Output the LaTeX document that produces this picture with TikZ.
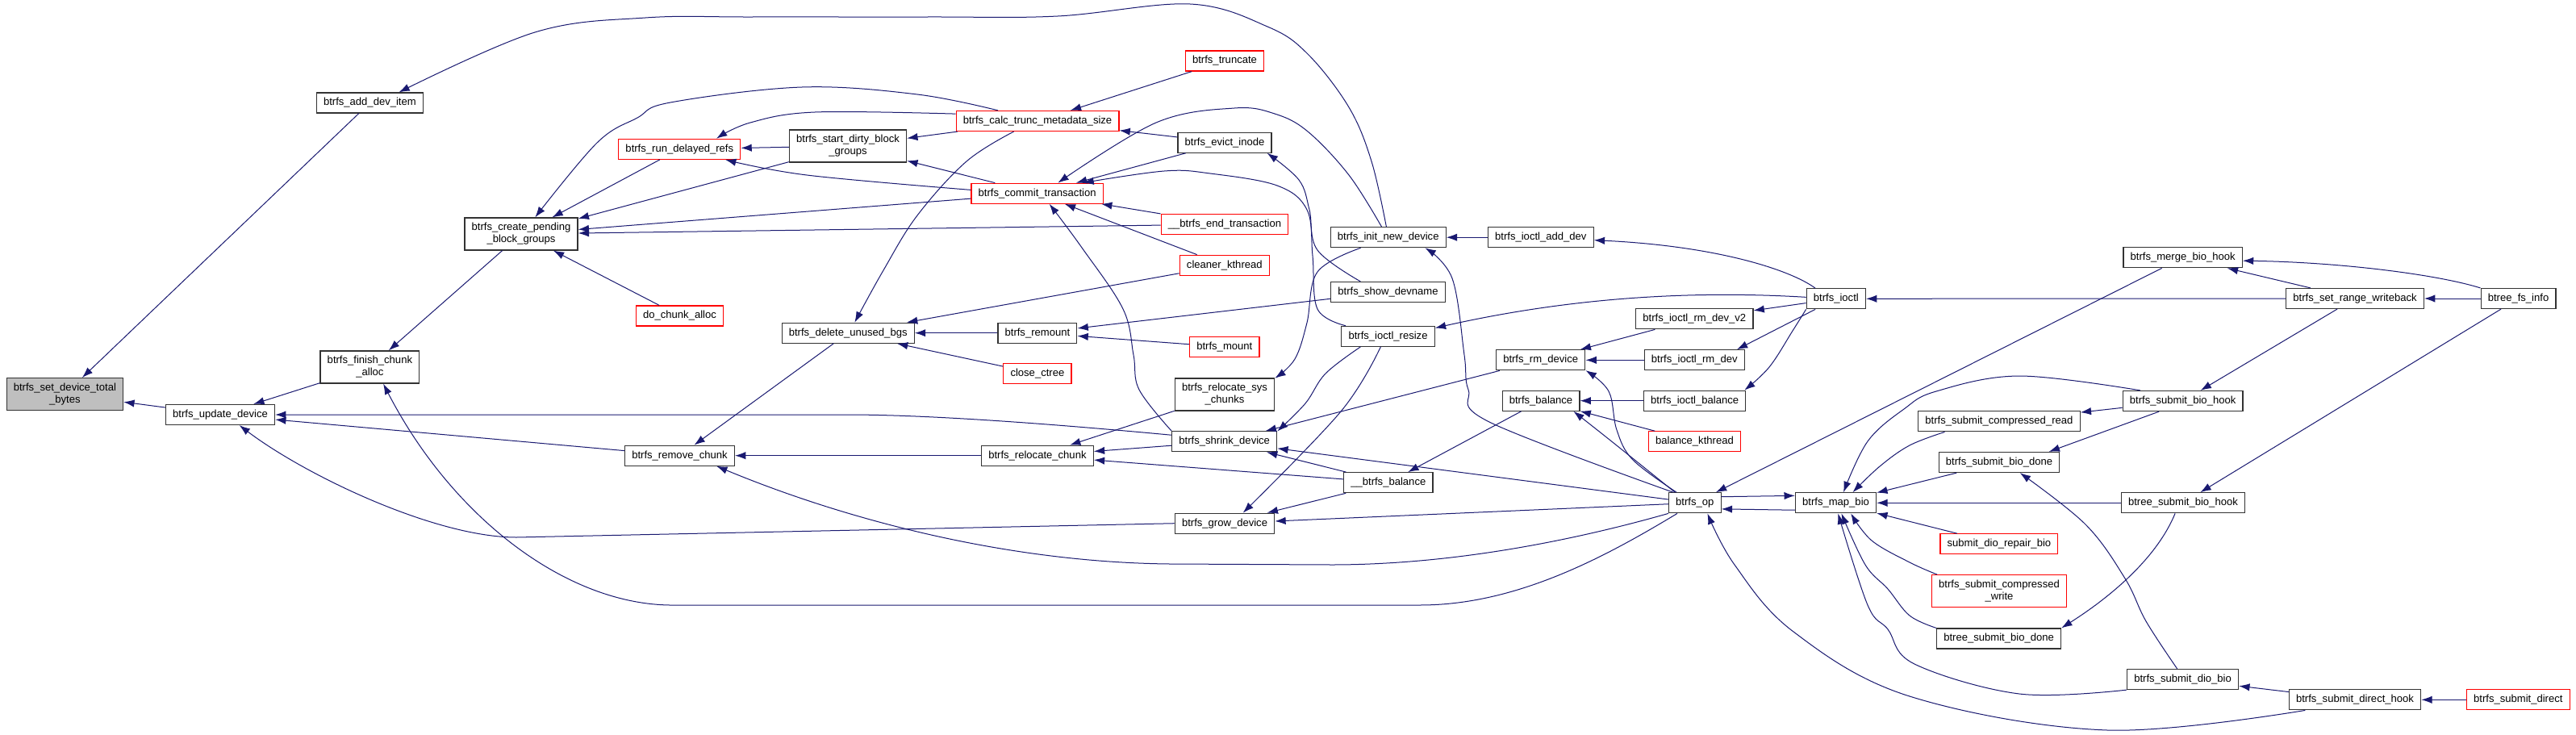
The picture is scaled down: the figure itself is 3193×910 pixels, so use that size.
\documentclass[tikz,border=0pt]{standalone}
\usepackage{fontspec}
\setmainfont{Liberation Sans}
\usetikzlibrary{arrows.meta}
\definecolor{callblue}{HTML}{191970}
\definecolor{rootgray}{HTML}{BFBFBF}
\definecolor{boxred}{HTML}{FF0000}

\begin{document}
\begin{tikzpicture}[x=0.75pt, y=-0.75pt,
  fn/.style = {draw=black!80, line width=0.9pt, fill=white, minimum height=18.75pt, inner xsep=6.5pt, inner ysep=1pt, align=center, font=\fontsize{9.8}{11.3}\selectfont},
  fnred/.style = {fn, draw=boxred},
  fnroot/.style = {fn, fill=rootgray},
  twoline/.style = {minimum height=30pt},
  callarrow/.style = {draw=callblue, line width=0.75pt, -{Latex[length=10pt, width=7pt]}}
]

\useasboundingbox (0,0) rectangle (3193,910);

% root and first columns
\node[fnroot, twoline] (root) at (80.4,488.7) {btrfs\_set\_device\_total\\\_bytes};
\node[fn] (updev) at (273,514) {btrfs\_update\_device};
\node[fn] (adddev) at (458.4,127.5) {btrfs\_add\_dev\_item};
\node[fn, twoline] (finish) at (458.4,455) {btrfs\_finish\_chunk\\\_alloc};
\node[fn, twoline] (pending) at (646,290) {btrfs\_create\_pending\\\_block\_groups};

% column 4
\node[fnred] (rundel) at (842.3,184.8) {btrfs\_run\_delayed\_refs};
\node[fnred] (dochunk) at (842.5,391.5) {do\_chunk\_alloc};
\node[fn] (rmchunk) at (842.5,564.7) {btrfs\_remove\_chunk};

% column 5
\node[fn, twoline] (startdirty) at (1051,181) {btrfs\_start\_dirty\_block\\\_groups};
\node[fn] (delbgs) at (1051.2,412.7) {btrfs\_delete\_unused\_bgs};

% column 6
\node[fnred] (calctrunc) at (1286,150) {btrfs\_calc\_trunc\_metadata\_size};
\node[fnred] (commit) at (1285.6,239.7) {btrfs\_commit\_transaction};
\node[fn] (remount) at (1285.9,412.7) {btrfs\_remount};
\node[fnred] (closectree) at (1285.9,463.3) {close\_ctree};
\node[fn] (relchunk) at (1285.9,564.7) {btrfs\_relocate\_chunk};

% column 7
\node[fnred] (truncate) at (1518,75.5) {btrfs\_truncate};
\node[fn] (evict) at (1518,176.7) {btrfs\_evict\_inode};
\node[fnred] (endtrans) at (1518,278) {\_\_btrfs\_end\_transaction};
\node[fnred] (cleaner) at (1517.8,328.7) {cleaner\_kthread};
\node[fnred] (mount) at (1517.8,430) {btrfs\_mount};
\node[fn, twoline] (relsys) at (1518,489) {btrfs\_relocate\_sys\\\_chunks};
\node[fn] (shrink) at (1517.7,547.3) {btrfs\_shrink\_device};
\node[fn] (grow) at (1518,648.7) {btrfs\_grow\_device};

% column 8
\node[fn] (initnew) at (1720.7,294.2) {btrfs\_init\_new\_device};
\node[fn] (showdev) at (1720.5,362) {btrfs\_show\_devname};
\node[fn] (resize) at (1720.5,416.8) {btrfs\_ioctl\_resize};
\node[fn] (ubalance) at (1720.8,598.2) {\_\_btrfs\_balance};

% column 9
\node[fn] (addioctl) at (1909.8,294.2) {btrfs\_ioctl\_add\_dev};
\node[fn] (rmdev) at (1909.7,446.3) {btrfs\_rm\_device};
\node[fn] (balance) at (1910,496.7) {btrfs\_balance};

% column 10
\node[fn] (rmdevvtwo) at (2100.3,395.3) {btrfs\_ioctl\_rm\_dev\_v2};
\node[fn] (ioctlrmdev) at (2100.3,446.3) {btrfs\_ioctl\_rm\_dev};
\node[fn] (ioctlbal) at (2100.6,496.7) {btrfs\_ioctl\_balance};
\node[fnred] (balkthread) at (2100.5,547.3) {balance\_kthread};
\node[fn] (op) at (2100.8,623.3) {btrfs\_op};

% column 11
\node[fn] (ioctl) at (2275.8,370.3) {btrfs\_ioctl};
\node[fn] (mapbio) at (2275.5,623.3) {btrfs\_map\_bio};

% column 12
\node[fn] (compread) at (2477.9,522.3) {btrfs\_submit\_compressed\_read};
\node[fn] (biodone) at (2478,573) {btrfs\_submit\_bio\_done};
\node[fnred] (repair) at (2477.9,674.3) {submit\_dio\_repair\_bio};
\node[fnred, twoline] (compwrite) at (2478,732.7) {btrfs\_submit\_compressed\\\_write};
\node[fn] (btreedone) at (2477.6,791.5) {btree\_submit\_bio\_done};

% column 13
\node[fn] (merge) at (2705.6,319.3) {btrfs\_merge\_bio\_hook};
\node[fn] (biohook) at (2705.6,497) {btrfs\_submit\_bio\_hook};
\node[fn] (btreehook) at (2705.9,623.3) {btree\_submit\_bio\_hook};
\node[fn] (diobio) at (2705.6,842) {btrfs\_submit\_dio\_bio};

% columns 14, 15
\node[fn] (rangewb) at (2919,370) {btrfs\_set\_range\_writeback};
\node[fn] (directhook) at (2919,867.3) {btrfs\_submit\_direct\_hook};
\node[fn] (fsinfo) at (3121.5,370) {btree\_fs\_info};
\node[fnred] (direct) at (3121.3,867.3) {btrfs\_submit\_direct};

%--- into root, update_device, add_dev_item ---
\draw[callarrow] (updev) -- (root);
\draw[callarrow] (adddev) -- (root);
\draw[callarrow] plot[smooth, tension=0.6] coordinates {(initnew.100) (1700,200) (1672,133) (1621,67) (1571,33) (1475,5) (1311,20) (1150,21) (933,21) (800,22) (663,40) (adddev.20)};
\draw[callarrow] (finish) -- (updev);
\draw[callarrow] (shrink.173) .. controls (1300,525) and (1150,514) .. (1050,514) -- (updev.east);
\draw[callarrow] (rmchunk) -- (updev);
\draw[callarrow] (grow.west) -- (640,666) .. controls (540,666) and (380,590) .. (updev.-29);

%--- finish_chunk_alloc, create_pending_block_groups ---
\draw[callarrow] (pending) -- (finish);
\draw[callarrow] (op.211) .. controls (1990,690) and (1880,750) .. (1760,750) -- (830,750) .. controls (700,748) and (560,640) .. (finish.-51);
\draw[callarrow] plot[smooth, tension=0.6] coordinates {(calctrunc.165) (1137,117) (994,108) (831,127) (790,146) (740,177) (pending.50)};
\draw[callarrow] (rundel) -- (pending);
\draw[callarrow] (startdirty) -- (pending);
\draw[callarrow] (commit) -- (pending);
\draw[callarrow] (endtrans) -- (pending);
\draw[callarrow] (dochunk) -- (pending);

%--- run_delayed_refs, start_dirty_block_groups ---
\draw[callarrow] plot[smooth, tension=0.6] coordinates {(calctrunc.175) (1010,139) (930,152) (rundel.16)};
\draw[callarrow] (startdirty) -- (rundel);
\draw[callarrow] plot[smooth, tension=0.6] coordinates {(commit.177) (1000,217) (rundel.-13)};
\draw[callarrow] (calctrunc) -- (startdirty);
\draw[callarrow] (commit) -- (startdirty);

%--- remove_chunk, delete_unused_bgs ---
\draw[callarrow] (relchunk) -- (rmchunk);
\draw[callarrow] (delbgs) -- (rmchunk);
\draw[callarrow] (op.south west) .. controls (1950,670) and (1800,700) .. (1650,700) -- (1450,699) .. controls (1250,697) and (1050,645) .. (rmchunk.-16);
\draw[callarrow] plot[smooth, tension=0.6] coordinates {(calctrunc.204) (1198,200) (1137,267) (1095,335) (delbgs.58)};
\draw[callarrow] (remount) -- (delbgs);
\draw[callarrow] (cleaner) -- (delbgs);
\draw[callarrow] (closectree) -- (delbgs);

%--- calc_trunc_metadata_size, commit_transaction ---
\draw[callarrow] (truncate) -- (calctrunc);
\draw[callarrow] (evict) -- (calctrunc);
\draw[callarrow] plot[smooth, tension=0.6] coordinates {(initnew.122) (1672,217) (1621,163) (1580,141) (1530,134) (1433,152) (commit.27)};
\draw[callarrow] plot[smooth, tension=0.6] coordinates {(resize.166) (1633,383) (1627,317) (1620,260) (1583,230) (1500,215) (1443,212) (commit.13)};
\draw[callarrow] (evict) -- (commit);
\draw[callarrow] (endtrans) -- (commit);
\draw[callarrow] (cleaner) -- (commit);
\draw[callarrow] plot[smooth, tension=0.6] coordinates {(shrink.north west) (1412,483) (1405,440) (1392,383) (1341,307) (commit.-41)};

%--- remount, evict_inode ---
\draw[callarrow] (showdev) -- (remount);
\draw[callarrow] (mount) -- (remount);
\draw[callarrow] plot[smooth, tension=0.6] coordinates {(showdev.159) (1633,310) (1623,260) (1610,223) (evict.-14)};

%--- relocate_chunk, shrink, grow ---
\draw[callarrow] (shrink) -- (relchunk);
\draw[callarrow] (relsys) -- (relchunk);
\draw[callarrow] (ubalance) -- (relchunk);
\draw[callarrow] (ubalance) -- (shrink);
\draw[callarrow] (ubalance) -- (grow);
\draw[callarrow] plot[smooth, tension=0.6] coordinates {(resize.201) (1643,463) (1618,500) (shrink.11)};
\draw[callarrow] plot[smooth, tension=0.6] coordinates {(resize.-125) (1662,510) (grow.30)};
\draw[callarrow] (rmdev) -- (shrink);
\draw[callarrow] (op) -- (shrink);
\draw[callarrow] (op) -- (grow);
\draw[callarrow] plot[smooth, tension=0.6] coordinates {(initnew.201) (1633,337) (1620,400) (1605,445) (relsys.18)};

%--- init_new_device, rm_device, balance ---
\draw[callarrow] (addioctl) -- (initnew);
\draw[callarrow] plot[smooth, tension=0.6] coordinates {(op.154) (1846,523) (1820,483) (1815,440) (1800,345) (initnew.-16)};
\draw[callarrow] plot[smooth, tension=0.6] coordinates {(op.150) (2024,570) (2004,533) (1994,485) (rmdev.-13)};
\draw[callarrow] plot[smooth, tension=0.6] coordinates {(op.152) (1995,545) (balance.-18)};
\draw[callarrow] (rmdevvtwo) -- (rmdev);
\draw[callarrow] (ioctlrmdev) -- (rmdev);
\draw[callarrow] (ioctlbal) -- (balance);
\draw[callarrow] (balkthread) -- (balance);
\draw[callarrow] (balance) -- (ubalance);

%--- btrfs_ioctl ---
\draw[callarrow] (ioctl.177) .. controls (2100,360) and (1950,368) .. (resize.10);
\draw[callarrow] (ioctl.153) .. controls (2220,335) and (2130,305) .. (addioctl.-3);
\draw[callarrow] (ioctl) -- (rmdevvtwo);
\draw[callarrow] (ioctl.207) -- (ioctlrmdev.14);
\draw[callarrow] plot[smooth, tension=0.6] coordinates {(ioctl.south west) (2222,410) (2193,455) (ioctlbal.12)};
\draw[callarrow] (rangewb) -- (ioctl);

%--- btrfs_op <-> btrfs_map_bio ---
\draw[callarrow] (op.13) -- (mapbio.170);
\draw[callarrow] (mapbio.190) -- (op.-13);
\draw[callarrow] (merge) -- (op);
\draw[callarrow] plot[smooth, tension=0.6] coordinates {(directhook.192) (2612,905) (2367,863) (2223,783) (2150,700) (op.-40)};

%--- callers of btrfs_map_bio ---
\draw[callarrow] plot[smooth, tension=0.6] coordinates {(biohook.166) (2503,466) (2400,485) (2360,507) (2315,547) (mapbio.54)};
\draw[callarrow] plot[smooth, tension=0.6] coordinates {(compread.191) (2367,552) (2330,578) (mapbio.32)};
\draw[callarrow] (biodone) -- (mapbio);
\draw[callarrow] (btreehook) -- (mapbio);
\draw[callarrow] (repair) -- (mapbio);
\draw[callarrow] plot[smooth, tension=0.6] coordinates {(compwrite.165) (2367,697) (2320,670) (mapbio.-35)};
\draw[callarrow] plot[smooth, tension=0.6] coordinates {(btreedone.north west) (2367,763) (2340,730) (2312,700) (mapbio.-62)};
\draw[callarrow] plot[smooth, tension=0.6] coordinates {(diobio.south west) (2503,860) (2373,823) (2340,780) (2315,750) (mapbio.-78)};

%--- right part ---
\draw[callarrow] (biohook) -- (compread);
\draw[callarrow] (biohook.204) -- (biodone.12);
\draw[callarrow] plot[smooth, tension=0.6] coordinates {(diobio.118) (2660,770) (2634,717) (2585,650) (biodone.-27)};
\draw[callarrow] (btreehook.-127) .. controls (2670,700) and (2600,750) .. (btreedone.north east);
\draw[callarrow] (rangewb) -- (merge);
\draw[callarrow] (fsinfo.north west) .. controls (3020,340) and (2900,325) .. (merge.-3);
\draw[callarrow] (fsinfo) -- (rangewb);
\draw[callarrow] (rangewb) -- (biohook);
\draw[callarrow] (fsinfo) -- (btreehook);
\draw[callarrow] (directhook) -- (diobio);
\draw[callarrow] (direct) -- (directhook);

\end{tikzpicture}
\end{document}
